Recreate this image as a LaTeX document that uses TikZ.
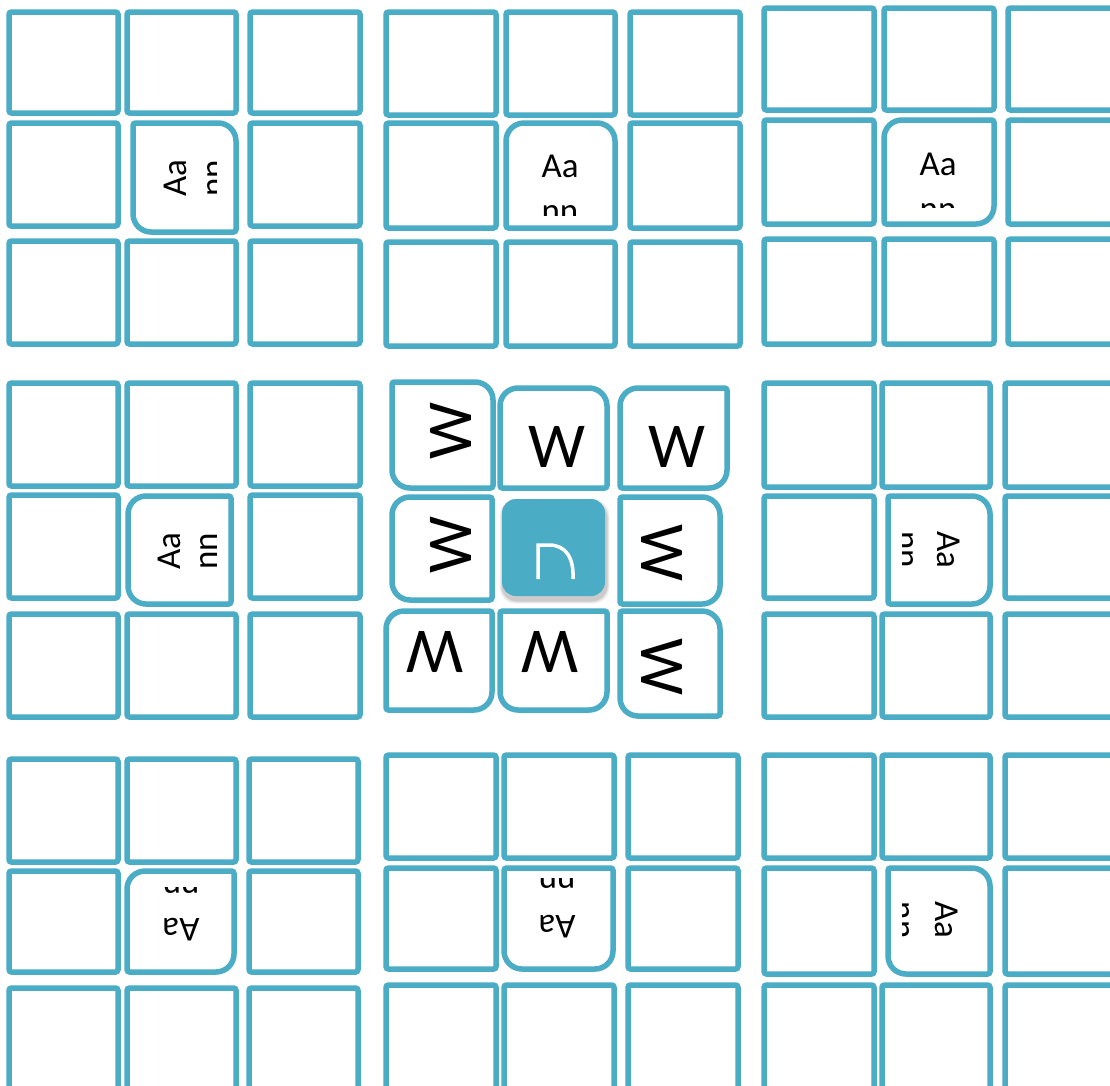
\documentclass[tikz,border=0pt]{standalone}
\usepackage{fontspec}
\setmainfont{Carlito}
\definecolor{cblue}{HTML}{4BACC6}
% cell with individual corner radii: x1 y1 x2 y2 rTL rTR rBR rBL
\newcommand\cellp[8]{%
  \draw[cellline] (#1+#5,#2) -- (#3-#6,#2) arc[start angle=-90,end angle=0,radius=#6]
    -- (#3,#4-#7) arc[start angle=0,end angle=90,radius=#7]
    -- (#1+#8,#4) arc[start angle=90,end angle=180,radius=#8]
    -- (#1,#2+#5) arc[start angle=180,end angle=270,radius=#5] -- cycle;}
% block of 3x3 plain cells without the middle one
\newcommand\blk[2]{%
  \foreach \xa/\xb [count=\i] in {#1}{%
    \foreach \ya/\yb [count=\j] in {#2}{%
      \ifnum\i\j=22 \else
        \draw[cellline, rounded corners=2.5pt] (\xa,\ya) rectangle (\xb,\yb);
      \fi}}}
\begin{document}
\begin{tikzpicture}[x=1pt,y=-1pt,
  cellline/.style={draw=cblue, line width=5.5pt},
  aatext/.style={font=\fontsize{35}{40}\selectfont, inner sep=0pt, anchor=base},
  wtext/.style={font=\fontsize{64}{70}\selectfont, inner sep=0pt}]
\useasboundingbox (0,0) rectangle (1110,1085);
\clip (0,0) rectangle (1110,1085);
\fill[white] (0,0) rectangle (1110,1085);
\def\R{18}
\def\S{2.5}
% ---------- outer blocks ----------
\blk{9/118,127/236,250/360}{12/113,123/226,241/344}
\blk{386/496,506/615,630/740}{12/115,123/228,242/346}
\blk{764/874,884/994,1008/1118}{8/110,120/224,239/344}
\blk{9/118,127/236,250/360}{383/486,495/598,614/717}
\blk{764/874,882/990,1005/1118}{383/487,496/598,614/717}
\blk{9/118,127/236,249/358}{759/862,871/972,988/1095}
\blk{386/496,504/614,628/738}{755/858,868/969,985/1095}
\blk{764/874,882/990,1005/1118}{755/858,868/974,985/1095}
% middle cells of outer blocks
\cellp{133}{123}{236}{232}{\S}{\R}{\S}{\R}
\cellp{506}{123}{615}{228}{\R}{\R}{\S}{\S}
\cellp{884}{120}{994}{224}{\R}{\S}{\R}{\S}
\cellp{128}{496}{231}{604}{\R}{\S}{\S}{\R}
\cellp{888}{496}{990}{604}{\S}{\R}{\R}{\S}
\cellp{127}{871}{234}{972}{\R}{\S}{\R}{\S}
\cellp{504}{868}{613}{969}{\S}{\S}{\R}{\R}
\cellp{888}{868}{990}{974}{\S}{\R}{\S}{\R}
% texts of outer middle cells (clipped)
\begin{scope}\clip (140,130) rectangle (216,225);
  \node[aatext, rotate=90] (tla) at (186,178) {Aa};
  \node[aatext, rotate=90] (tln) at (224,178) {nn};
\end{scope}
\begin{scope}\clip (513,130) rectangle (608,215);
  \node[aatext] (tma) at (560,177) {Aa};
  \node[aatext] (tmn) at (560,222) {nn};
\end{scope}
\begin{scope}\clip (891,127) rectangle (987,207);
  \node[aatext] (tra) at (938,175) {Aa};
  \node[aatext] (trn) at (938,220) {nn};
\end{scope}
\begin{scope}\clip (135,503) rectangle (222,597);
  \node[aatext, rotate=90] (mla) at (180,551) {Aa};
  \node[aatext, rotate=90] (mln) at (217,551) {nn};
\end{scope}
\begin{scope}\clip (902,503) rectangle (983,597);
  \node[aatext, rotate=-90] (mra) at (937,550) {Aa};
  \node[aatext, rotate=-90] (mrn) at (896,550) {nn};
\end{scope}
\begin{scope}\clip (134,887) rectangle (227,965);
  \node[aatext, rotate=180] (bla) at (181,918) {Aa};
  \node[aatext, rotate=180] (bln) at (181,876) {nn};
\end{scope}
\begin{scope}\clip (511,878) rectangle (606,962);
  \node[aatext, rotate=180] (bma) at (557,915) {Aa};
  \node[aatext, rotate=180] (bmn) at (557,871) {nn};
\end{scope}
\begin{scope}\clip (902,875) rectangle (983,967);
  \node[aatext, rotate=-90] (bra) at (935,920) {Aa};
  \node[aatext, rotate=-90] (brn) at (892,920) {nn};
\end{scope}
% ---------- centre block ----------
\cellp{392}{382}{493}{488}{\S}{\R}{\S}{\R}
\cellp{500}{388}{607}{488}{\R}{\R}{\S}{\S}
\cellp{620}{388}{727}{488}{\R}{\S}{\R}{\S}
\cellp{392}{497}{492}{600}{\R}{\S}{\S}{\R}
\cellp{620}{497}{720}{604}{\S}{\R}{\R}{\S}
\cellp{386}{611}{492}{710}{\R}{\S}{\R}{\S}
\cellp{500}{611}{607}{710}{\S}{\S}{\R}{\R}
\cellp{620}{611}{720}{716}{\S}{\R}{\S}{\R}
\node[wtext, rotate=90] (w11) at (451,431) {W};
\node[wtext] (w12) at (557,447) {W};
\node[wtext] (w13) at (677,447) {W};
\node[wtext, rotate=90] (w21) at (451,545) {W};
\node[wtext, rotate=-90] (w23) at (662,553) {W};
\node[wtext, rotate=180] (w31) at (435,652) {W};
\node[wtext, rotate=180] (w32) at (550,652) {W};
\node[wtext, rotate=-90] (w33) at (662,667) {W};
% centre key with soft shadow
\foreach \o/\op in {7/0.05,5/0.07,3/0.09}{
  \fill[black, opacity=\op, rounded corners=16pt] (502-\o/2+1,499-\o/2+4) rectangle (605+\o/2+1,596+\o/2+4);}
\fill[cblue, rounded corners=14pt] (502,499) rectangle (605,596);
\draw[white, line width=3.5pt] (538,579) -- (538,545) -- (549,545)
  .. controls (566,545) and (574,558) .. (573,579);
\end{tikzpicture}
\end{document}
